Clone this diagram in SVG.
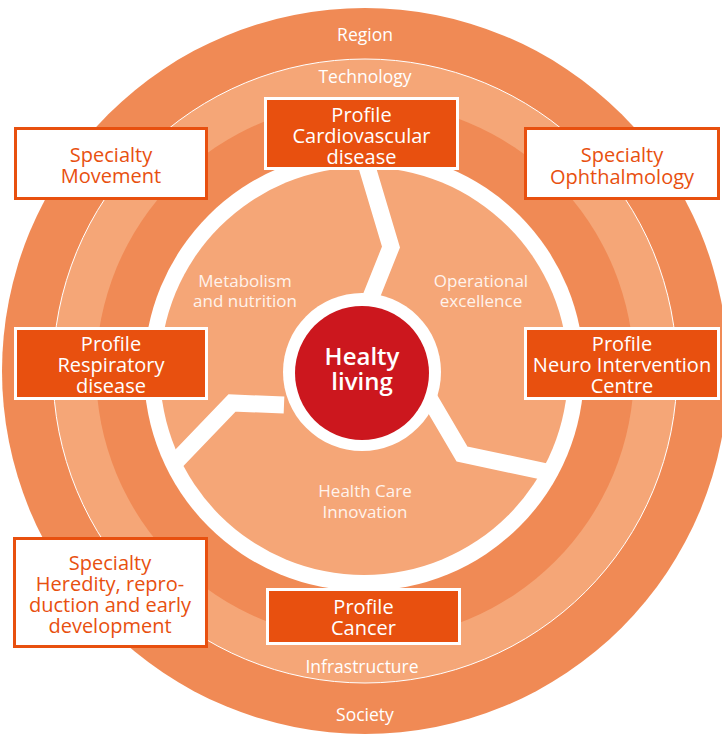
<svg xmlns="http://www.w3.org/2000/svg" width="722" height="736" viewBox="0 0 722 736">
<style>
.ring{fill:#F08A55}
.light{fill:#F5A677}
.lbl{font-family:"Open Sans","Noto Sans",sans-serif;font-size:17.5px;fill:#fff;text-anchor:middle}
.inner{font-family:"Open Sans","Noto Sans",sans-serif;font-size:17px;fill:#FFF3EC;text-anchor:middle}
.prof rect{fill:#E8500F;stroke:#fff;stroke-width:3}
.prof text{font-family:"Open Sans","Noto Sans",sans-serif;font-size:20px;fill:#fff;text-anchor:middle}
.spec rect{fill:#fff;stroke:#E8500F;stroke-width:3}
.spec text{font-family:"Open Sans","Noto Sans",sans-serif;font-size:20px;fill:#E8500F;text-anchor:middle}
.spoke{fill:none;stroke:#fff;stroke-width:17;stroke-linejoin:miter}
</style>
<defs>
<clipPath id="inside"><circle cx="364" cy="371" r="214"/></clipPath>
</defs>
<rect width="722" height="736" fill="#fff"/>
<g id="rings">
<circle class="ring" cx="365" cy="371" r="363"/>
<circle class="light" cx="365" cy="371" r="312" stroke="#fff" stroke-width="1"/>
<circle class="ring" cx="365" cy="371" r="269"/>
<circle cx="364" cy="371" r="220" fill="#fff"/>
<circle class="light" cx="364" cy="371" r="204"/>
<text class="lbl" x="365" y="41">Region</text>
<text class="lbl" x="365" y="83">Technology</text>
<text class="lbl" x="362" y="673">Infrastructure</text>
<text class="lbl" x="365" y="721">Society</text>
</g>
<g id="connectors" clip-path="url(#inside)">
<polyline class="spoke" points="362,150 391,247 369,302"/>
<polyline class="spoke" points="284,405 232,403 160,478"/>
<polyline class="spoke" points="425,391 462,454 570,477"/>
</g>
<g id="sectors">
<text class="inner" x="245" y="287">Metabolism</text>
<text class="inner" x="245" y="307">and nutrition</text>
<text class="inner" x="481" y="287">Operational</text>
<text class="inner" x="481" y="307">excellence</text>
<text class="inner" x="365" y="497">Health Care</text>
<text class="inner" x="365" y="518">Innovation</text>
</g>
<g id="healthy-living">
<circle cx="362" cy="372" r="79" fill="#fff"/>
<circle cx="362" cy="373" r="67" fill="#CC171E"/>
<text x="362" y="365" font-family="Open Sans, Noto Sans, sans-serif" font-size="24" font-weight="600" fill="#fff" text-anchor="middle">Healty</text>
<text x="362" y="390" font-family="Open Sans, Noto Sans, sans-serif" font-size="24" font-weight="600" fill="#fff" text-anchor="middle">living</text>
</g>
<g id="profile-cardiovascular" class="prof">
<rect x="265.5" y="98.5" width="192" height="70"/>
<text x="361.5" y="122">Profile</text>
<text x="361.5" y="143">Cardiovascular</text>
<text x="361.5" y="164">disease</text>
</g>
<g id="specialty-movement" class="spec">
<rect x="15.5" y="128.5" width="191" height="70"/>
<text x="111" y="162">Specialty</text>
<text x="111" y="183">Movement</text>
</g>
<g id="specialty-ophthalmology" class="spec">
<rect x="525.5" y="128.5" width="193" height="70"/>
<text x="622" y="162">Specialty</text>
<text x="622" y="184">Ophthalmology</text>
</g>
<g id="profile-respiratory" class="prof">
<rect x="15.5" y="328.5" width="191" height="70"/>
<text x="111" y="351">Profile</text>
<text x="111" y="372">Respiratory</text>
<text x="111" y="393">disease</text>
</g>
<g id="profile-neuro" class="prof">
<rect x="525.5" y="328.5" width="193" height="70"/>
<text x="622" y="351">Profile</text>
<text x="622" y="372">Neuro Intervention</text>
<text x="622" y="393">Centre</text>
</g>
<g id="specialty-heredity" class="spec">
<rect x="14.5" y="538.5" width="192" height="108"/>
<text x="110" y="570">Specialty</text>
<text x="110" y="591">Heredity, repro-</text>
<text x="110" y="612">duction and early</text>
<text x="110" y="633">development</text>
</g>
<g id="profile-cancer" class="prof">
<rect x="267.5" y="589.5" width="192" height="54"/>
<text x="363.5" y="614">Profile</text>
<text x="363.5" y="635">Cancer</text>
</g>
</svg>
